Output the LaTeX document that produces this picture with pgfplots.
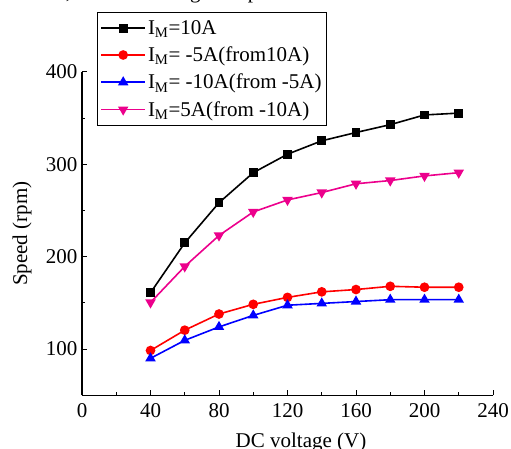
\documentclass[border=0pt]{standalone}
\usepackage{pgfplots}
\pgfplotsset{compat=1.18}
\usepackage{fontspec}
\setmainfont{Liberation Serif}

\newcommand{\fs}{\fontsize{21bp}{24bp}\selectfont}

\begin{document}
\begin{tikzpicture}
\begin{axis}[
    scale only axis,
    width=411bp, height=323.3bp,
    xmin=0, xmax=240, ymin=50, ymax=400,
    axis lines=left,
    axis line style={-, line width=1.2bp},
    tick align=inside,
    tick style={line width=1bp, black},
    major tick length=5bp, minor tick length=3bp,
    xtick={0,40,...,240}, minor xtick={20,60,...,220},
    ytick={100,200,300,400}, minor ytick={150,250,350},
    tick label style={font=\fs},
    /pgf/number format/assume math mode=true,
    xticklabel style={inner sep=0pt, yshift=-8bp},
    yticklabel style={inner sep=0pt, xshift=-4.5bp},
    xlabel={DC voltage (V)},
    ylabel={Speed (rpm)},
    label style={font=\fs},
    xlabel style={at={(axis description cs:0.533,0)}, anchor=base, yshift=-51.7bp},
    ylabel style={at={(axis description cs:-0.146,0.5)}, anchor=center},
    legend style={at={(0.0365,1.1856)}, anchor=north west, draw=black,
                  line width=0.8bp, font=\fs, inner xsep=3bp, inner ysep=4bp,
                  row sep=3bp, nodes={inner xsep=2bp, inner ysep=4bp}},
    legend cell align={left},
    legend image code/.code={
        \draw[mark repeat=2,mark phase=2] plot coordinates {(0bp,0bp) (22bp,0bp) (44bp,0bp)};
    },
    every axis plot/.append style={line width=1.6bp},
    clip=false,
]
% I_M = 10A
\addplot[black, mark=square*, mark size=3.6bp] coordinates {
    (40,161) (60,215) (80,258.5) (100,291) (120,311)
    (140,325.5) (160,334.5) (180,343) (200,353.5) (220,355.5)
};
% I_M = -5A (from 10A)
\addplot[red, mark=*, mark size=4bp] coordinates {
    (40,98.5) (60,120.5) (80,138) (100,148.5) (120,156)
    (140,162) (160,164.5) (180,168) (200,167) (220,167)
};
% I_M = -10A (from -5A)
\addplot[blue, mark=triangle*, mark size=4.5bp] coordinates {
    (40,90) (60,109.5) (80,124) (100,136.5) (120,147.5)
    (140,149.5) (160,151.5) (180,153.5) (200,153.5) (220,153.5)
};
% I_M = 5A (from -10A)
\addplot[magenta, mark=triangle*, mark size=4.5bp, mark options={rotate=180}] coordinates {
    (40,150.5) (60,189.5) (80,223) (100,248.5) (120,261.5)
    (140,269.5) (160,279) (180,282.5) (200,287.5) (220,291)
};
\legend{I\textsubscript{M}=10A, I\textsubscript{M}= -5A(from10A),
        I\textsubscript{M}= -10A(from -5A), I\textsubscript{M}=5A(from -10A)}
\end{axis}
\node[anchor=base east, font=\fs, inner sep=0pt] at (211bp,397bp) {d, 67\% of the highest speed.};
\pgfresetboundingbox
\path[use as bounding box] (-82bp,-53.7bp) rectangle (429bp,395.3bp);
\end{tikzpicture}
\end{document}
